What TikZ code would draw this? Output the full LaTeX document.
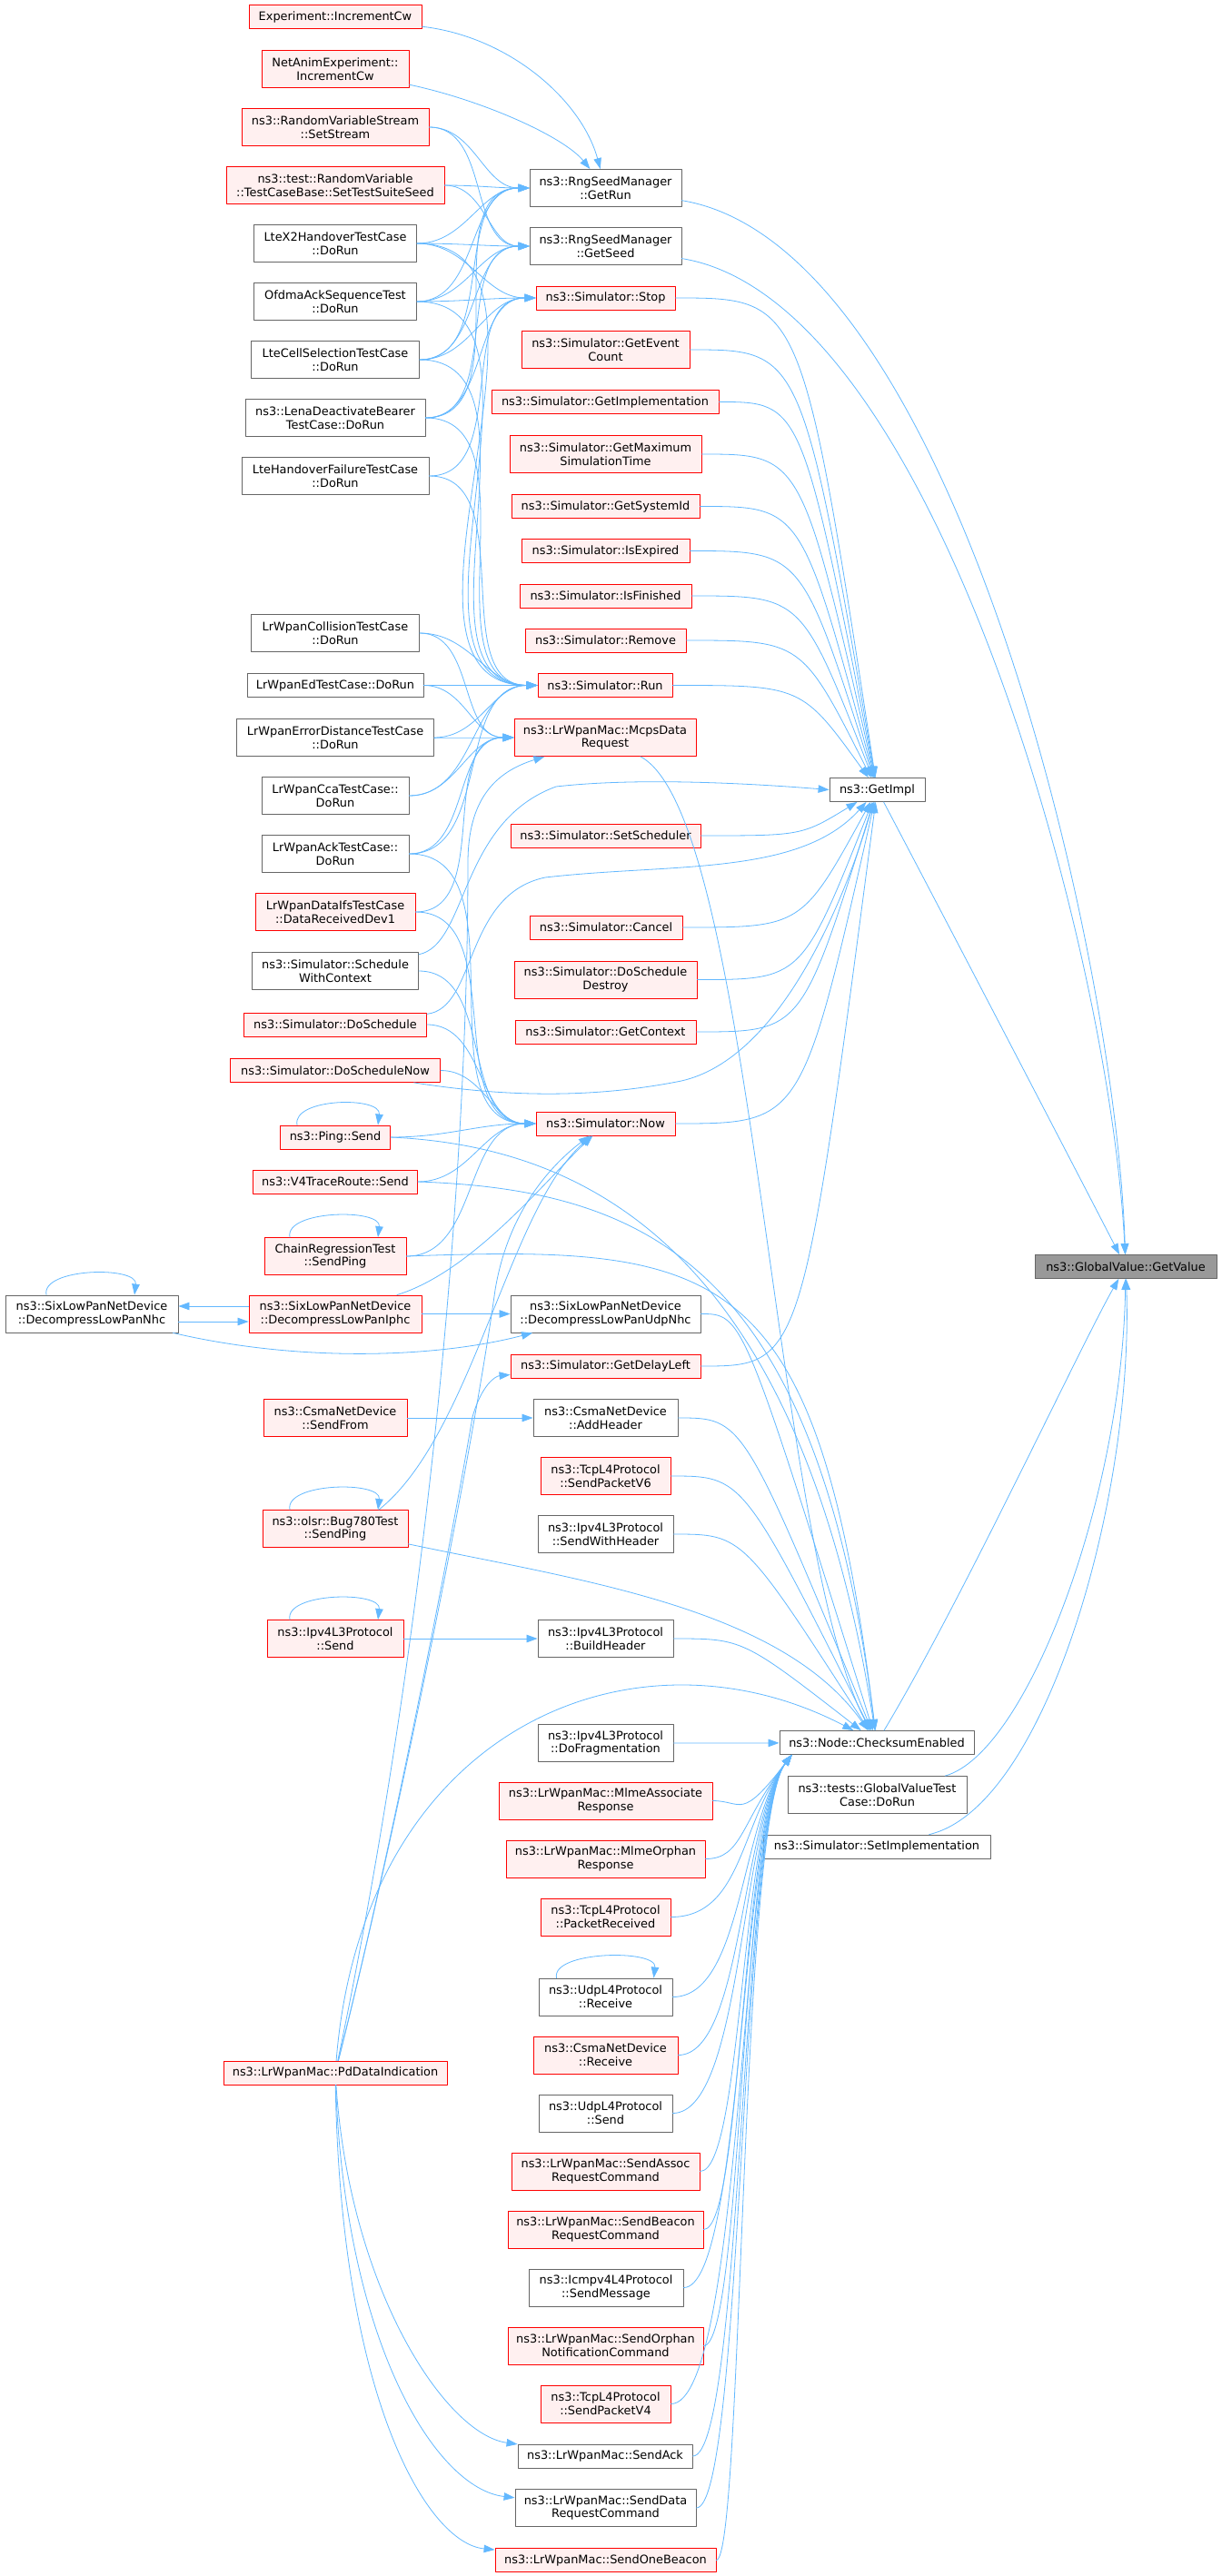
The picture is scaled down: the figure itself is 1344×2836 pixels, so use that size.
\documentclass[tikz,border=0pt]{standalone}
\usepackage{fontspec}
\setmainfont{DejaVu Sans}
\usetikzlibrary{arrows.meta,calc}
\definecolor{callblue}{HTML}{63B8FF}
\definecolor{redfill}{HTML}{FFF0F0}
\definecolor{boxgray}{HTML}{666666}
\definecolor{hitfill}{HTML}{999999}
\begin{document}
\begin{tikzpicture}[x=1pt,y=-1pt,line join=round,line cap=round,>={Triangle[length=12pt,width=8.5pt]},font=\fontsize{12.9}{14.7}\selectfont,
	box/.style={draw=boxgray,fill=white,line width=0.85pt,inner sep=0pt,minimum height=26pt,align=center},
	tall/.style={minimum height=41pt},
	graybox/.style={box,minimum width=#1},
	redbox/.style={box,draw=red,fill=redfill,minimum width=#1},
	call/.style={->,draw=callblue,line width=0.8pt},
	link/.style={call,out=0,in=180},
	fanin/.style={call,to path={.. controls ($(\tikztostart.east -| \tikztotarget.west)+(#1,0)$) .. (\tikztotarget)}},
	fanup/.style={call,to path={.. controls ($(\tikztostart.east -| \tikztotarget.west)+(-40,0)$) and ($(\tikztotarget.south west)+(-43,74)$) .. ($(\tikztotarget.south west)+(14,0)$)}}]
	\useasboundingbox (0,0) rectangle (1344,2836);
	\node[graybox=190pt,tall] (A1) at (101,1446.5) {ns3::SixLowPanNetDevice\\::DecompressLowPanNhc};
	\node[redbox=190pt] (B1) at (369,18.5) {Experiment::IncrementCw};
	\node[redbox=162pt,tall] (B2) at (369,76) {NetAnimExperiment::\\IncrementCw};
	\node[redbox=206pt,tall] (B3) at (369,140) {ns3::RandomVariableStream\\::SetStream};
	\node[redbox=240pt,tall] (B4) at (369,204) {ns3::test::RandomVariable\\::TestCaseBase::SetTestSuiteSeed};
	\node[graybox=179pt,tall] (B5) at (369,268) {LteX2HandoverTestCase\\::DoRun};
	\node[graybox=179pt,tall] (B6) at (369,332) {OfdmaAckSequenceTest\\::DoRun};
	\node[graybox=185pt,tall] (B7) at (369,396) {LteCellSelectionTestCase\\::DoRun};
	\node[graybox=198pt,tall] (B8) at (369,460) {ns3::LenaDeactivateBearer\\TestCase::DoRun};
	\node[graybox=206pt,tall] (B9) at (369,524) {LteHandoverFailureTestCase\\::DoRun};
	\node[graybox=185pt,tall] (B10) at (369,697) {LrWpanCollisionTestCase\\::DoRun};
	\node[graybox=194pt] (B11) at (369,754.5) {LrWpanEdTestCase::DoRun};
	\node[graybox=217pt,tall] (B12) at (369,812) {LrWpanErrorDistanceTestCase\\::DoRun};
	\node[graybox=162pt,tall] (B13) at (369,876) {LrWpanCcaTestCase::\\DoRun};
	\node[graybox=162pt,tall] (B14) at (369,940) {LrWpanAckTestCase::\\DoRun};
	\node[redbox=176pt,tall] (B15) at (369,1004) {LrWpanDataIfsTestCase\\::DataReceivedDev1};
	\node[graybox=183pt,tall] (B16) at (369,1069) {ns3::Simulator::Schedule\\WithContext};
	\node[redbox=201pt] (B17) at (369,1128) {ns3::Simulator::DoSchedule};
	\node[redbox=231pt] (B18) at (369,1178.5) {ns3::Simulator::DoScheduleNow};
	\node[redbox=121pt] (B19) at (369,1252) {ns3::Ping::Send};
	\node[redbox=181pt] (B20) at (369,1301) {ns3::V4TraceRoute::Send};
	\node[redbox=156pt,tall] (B21) at (369,1383) {ChainRegressionTest\\::SendPing};
	\node[redbox=190pt,tall] (B22) at (369,1446.5) {ns3::SixLowPanNetDevice\\::DecompressLowPanIphc};
	\node[redbox=158pt,tall] (B23) at (369,1561) {ns3::CsmaNetDevice\\::SendFrom};
	\node[redbox=160pt,tall] (B24) at (369,1683) {ns3::olsr::Bug780Test\\::SendPing};
	\node[redbox=150pt,tall] (B25) at (369,1804) {ns3::Ipv4L3Protocol\\::Send};
	\node[redbox=246pt] (B26) at (369,2282) {ns3::LrWpanMac::PdDataIndication};
	\node[graybox=167pt,tall] (C1) at (666.5,207) {ns3::RngSeedManager\\::GetRun};
	\node[graybox=167pt,tall] (C2) at (666.5,271) {ns3::RngSeedManager\\::GetSeed};
	\node[redbox=153pt] (C3) at (666.5,328) {ns3::Simulator::Stop};
	\node[redbox=185pt,tall] (C4) at (666.5,385) {ns3::Simulator::GetEvent\\Count};
	\node[redbox=250pt] (C5) at (666,442.5) {ns3::Simulator::GetImplementation};
	\node[redbox=211pt,tall] (C6) at (666.5,500) {ns3::Simulator::GetMaximum\\SimulationTime};
	\node[redbox=207pt] (C7) at (666.5,557.5) {ns3::Simulator::GetSystemId};
	\node[redbox=185pt] (C8) at (666.5,606.5) {ns3::Simulator::IsExpired};
	\node[redbox=189pt] (C9) at (666.5,656) {ns3::Simulator::IsFinished};
	\node[redbox=177pt] (C10) at (666.5,705) {ns3::Simulator::Remove};
	\node[redbox=148pt] (C11) at (666,754.5) {ns3::Simulator::Run};
	\node[redbox=200pt,tall] (C12) at (666,812) {ns3::LrWpanMac::McpsData\\Request};
	\node[redbox=209pt] (C13) at (666.5,920) {ns3::Simulator::SetScheduler};
	\node[redbox=168pt] (C14) at (667,1021) {ns3::Simulator::Cancel};
	\node[redbox=201pt,tall] (C15) at (666.5,1078.5) {ns3::Simulator::DoSchedule\\Destroy};
	\node[redbox=199pt] (C16) at (666.5,1136) {ns3::Simulator::GetContext};
	\node[redbox=153pt] (C17) at (666.5,1237) {ns3::Simulator::Now};
	\node[graybox=209pt,tall] (C18) at (666.5,1446.5) {ns3::SixLowPanNetDevice\\::DecompressLowPanUdpNhc};
	\node[redbox=209pt] (C19) at (666.5,1504) {ns3::Simulator::GetDelayLeft};
	\node[graybox=159pt,tall] (C20) at (666.5,1561) {ns3::CsmaNetDevice\\::AddHeader};
	\node[redbox=143pt,tall] (C21) at (666.5,1625) {ns3::TcpL4Protocol\\::SendPacketV6};
	\node[graybox=149pt,tall] (C22) at (666.5,1689) {ns3::Ipv4L3Protocol\\::SendWithHeader};
	\node[graybox=149pt,tall] (C23) at (666.5,1804) {ns3::Ipv4L3Protocol\\::BuildHeader};
	\node[graybox=149pt,tall] (C24) at (666.5,1919) {ns3::Ipv4L3Protocol\\::DoFragmentation};
	\node[redbox=235pt,tall] (C25) at (666.5,1982.5) {ns3::LrWpanMac::MlmeAssociate\\Response};
	\node[redbox=219pt,tall] (C26) at (666.5,2046.5) {ns3::LrWpanMac::MlmeOrphan\\Response};
	\node[redbox=143pt,tall] (C27) at (666.5,2110.5) {ns3::TcpL4Protocol\\::PacketReceived};
	\node[graybox=147pt,tall] (C28) at (666.5,2198.5) {ns3::UdpL4Protocol\\::Receive};
	\node[redbox=159pt,tall] (C29) at (666.5,2262.5) {ns3::CsmaNetDevice\\::Receive};
	\node[graybox=147pt,tall] (C30) at (666.5,2326.5) {ns3::UdpL4Protocol\\::Send};
	\node[redbox=207pt,tall] (C31) at (666.5,2390.5) {ns3::LrWpanMac::SendAssoc\\RequestCommand};
	\node[redbox=215pt,tall] (C32) at (666.5,2454.5) {ns3::LrWpanMac::SendBeacon\\RequestCommand};
	\node[graybox=170pt,tall] (C33) at (667,2518.5) {ns3::Icmpv4L4Protocol\\::SendMessage};
	\node[redbox=215pt,tall] (C34) at (666.5,2582.5) {ns3::LrWpanMac::SendOrphan\\NotificationCommand};
	\node[redbox=143pt,tall] (C35) at (666.5,2646.5) {ns3::TcpL4Protocol\\::SendPacketV4};
	\node[graybox=192pt] (C36) at (666,2704) {ns3::LrWpanMac::SendAck};
	\node[graybox=199pt,tall] (C37) at (666.5,2761) {ns3::LrWpanMac::SendData\\RequestCommand};
	\node[redbox=243pt] (C38) at (666.5,2818.5) {ns3::LrWpanMac::SendOneBeacon};
	\node[graybox=105pt] (D1) at (965.5,869.5) {ns3::GetImpl};
	\node[graybox=214pt] (D2) at (965,1918.5) {ns3::Node::ChecksumEnabled};
	\node[graybox=197pt,tall] (D3) at (965.5,1976) {ns3::tests::GlobalValueTest\\Case::DoRun};
	\node[graybox=250pt] (D4) at (965,2033) {ns3::Simulator::SetImplementation};
	\node[box,fill=hitfill,minimum width=200pt] (E1) at (1239,1394.5) {ns3::GlobalValue::GetValue};
	\draw[call] (B1) .. controls (560,40) and (640,110) .. (C1);
	\draw[call] (B2) .. controls (530,110) and (620,150) .. (C1);
	\path (B3) edge[link] (C1) edge[link] (C2);
	\path (B4) edge[link] (C1) edge[link] (C2);
	\path (B5) edge[link] (C1) edge[link] (C2) edge[link] (C3) edge[link] (C11);
	\path (B6) edge[link] (C1) edge[link] (C2) edge[link] (C3) edge[link] (C11);
	\path (B7) edge[link] (C1) edge[link] (C2) edge[link] (C3) edge[link] (C11);
	\path (B8) edge[link] (C1) edge[link] (C2) edge[link] (C3) edge[link] (C11);
	\path (B9) edge[link] (C3) edge[link] (C11);
	\path (B10) edge[link] (C11) edge[link] (C12) (B11) edge[link] (C11) edge[link] (C12);
	\path (B12) edge[link] (C11) edge[link] (C12) (B13) edge[link] (C11) edge[link] (C12);
	\path (B14) edge[link] (C11) edge[link] (C12) edge[link] (C17);
	\path (B15) edge[link] (C12) edge[link] (C17);
	\path (B16) edge[link] (C17) (B17) edge[link] (C17) (B18) edge[link] (C17);
	\path (B19) edge[link] (C17) (B20) edge[link] (C17) (B21) edge[link] (C17);
	\path (B22) edge[link] (C18) (B23) edge[link] (C20) (B25) edge[link] (C23);
	\draw[call] (B16) .. controls (515,1040) and (505,905) .. (612,866) .. controls (700,856) and (820,862) .. (D1.west);
	\draw[call] (B17) .. controls (525,1110) and (510,985) .. (600,966) .. controls (740,950) and (880,965) .. (D1);
	\draw[call] (B18) .. controls (540,1205) and (640,1212) .. (750,1190) .. controls (860,1165) and (930,990) .. (D1);
	\draw[call] (B19.east) .. controls (650,1262) and (880,1380) .. (D2);
	\draw[call] (B20.east) .. controls (720,1310) and (900,1400) .. (D2);
	\draw[call] (B21.east) .. controls (800,1370) and (900,1390) .. (D2);
	\draw[call] (B24) .. controls (640,1740) and (860,1770) .. (D2);
	\draw[call] ([xshift=48pt]B24.north) .. controls (520,1580) and (560,1330) .. (C17);
	\draw[call] (B22) .. controls (520,1400) and (600,1300) .. (C17);
	\draw[call] ([yshift=8.5pt]B22.west) -- ([yshift=8.5pt]A1.east);
	\draw[call] ([yshift=-8.5pt]A1.east) -- ([yshift=-8.5pt]B22.west);
	\draw[call] (A1) .. controls (330,1500) and (480,1495) .. (C18);
	\draw[call] (B26) .. controls (440,2000) and (520,1600) .. (545,1420) .. controls (560,1330) and (610,1280) .. (C17);
	\draw[call] (B26) .. controls (470,1800) and (515,1300) .. (515,950) .. controls (515,880) and (545,850) .. (C12);
	\draw[call] (B26) .. controls (440,2000) and (505,1650) .. (520,1560) .. controls (530,1525) and (545,1515) .. (C19);
	\draw[call] (B26) .. controls (400,1900) and (700,1780) .. (D2);
	\draw[call] (B26) .. controls (385,2520) and (490,2680) .. (C36);
	\draw[call] (B26) .. controls (380,2580) and (480,2740) .. (C37);
	\draw[call] (B26) .. controls (375,2640) and (470,2800) .. (C38);
	\draw[call] (C12) .. controls (830,900) and (850,1700) .. (D2);
	\draw[call] ([xshift=-50pt]A1.north) .. controls +(-6,-30) and +(4,-32) .. ([xshift=47pt]A1.north);
	\draw[call] ([xshift=-42pt]B19.north) .. controls +(-6,-30) and +(4,-32) .. ([xshift=47pt]B19.north);
	\draw[call] ([xshift=-50pt]B21.north) .. controls +(-6,-30) and +(4,-32) .. ([xshift=47pt]B21.north);
	\draw[call] ([xshift=-50pt]B24.north) .. controls +(-6,-30) and +(4,-32) .. ([xshift=47pt]B24.north);
	\draw[call] ([xshift=-50pt]B25.north) .. controls +(-6,-30) and +(4,-32) .. ([xshift=47pt]B25.north);
	\draw[call] ([xshift=-54pt]C28.north) .. controls +(-6,-30) and +(4,-32) .. ([xshift=53pt]C28.north);
	\path (C3) edge[fanin=-30] (D1) (C4) edge[fanin=-30] (D1) (C5) edge[fanin=-30] (D1) (C6) edge[fanin=-30] (D1);
	\path (C7) edge[fanin=-30] (D1) (C8) edge[fanin=-30] (D1) (C9) edge[fanin=-30] (D1) (C10) edge[fanin=-30] (D1);
	\path (C11) edge[fanin=-30] (D1) (C13) edge[fanin=-30] (D1) (C14) edge[fanin=-30] (D1) (C15) edge[fanin=-30] (D1);
	\path (C16) edge[fanin=-30] (D1) (C17) edge[fanin=-30] (D1) (C19) edge[fanin=-30] (D1);
	\path (C18) edge[fanin=-40] (D2) (C20) edge[fanin=-40] (D2) (C21) edge[fanin=-40] (D2) (C22) edge[fanin=-40] (D2);
	\path (C23) edge[fanin=-40] (D2) (C24) edge[fanin=-40] (D2);
	\path (C25) edge[fanup] (D2) (C26) edge[fanup] (D2) (C27) edge[fanup] (D2) (C28) edge[fanup] (D2) (C29) edge[fanup] (D2);
	\path (C30) edge[fanup] (D2) (C31) edge[fanup] (D2) (C32) edge[fanup] (D2) (C33) edge[fanup] (D2) (C34) edge[fanup] (D2);
	\path (C35) edge[fanup] (D2) (C36) edge[fanup] (D2) (C37) edge[fanup] (D2) (C38) edge[fanup] (D2);
	\draw[call] (C1) .. controls (1050,270) and (1228,1050) .. (E1);
	\draw[call] (C2) .. controls (1030,330) and (1222,1050) .. (E1);
	\draw[call] (D1) .. controls (1050,1030) and (1180,1280) .. (E1);
	\draw[call] (D2) .. controls (1060,1760) and (1190,1480) .. (E1);
	\draw[call] (D3) .. controls (1130,1930) and (1235,1650) .. (E1);
	\draw[call] (D4) .. controls (1150,1990) and (1248,1650) .. (E1);
\end{tikzpicture}
\end{document}
